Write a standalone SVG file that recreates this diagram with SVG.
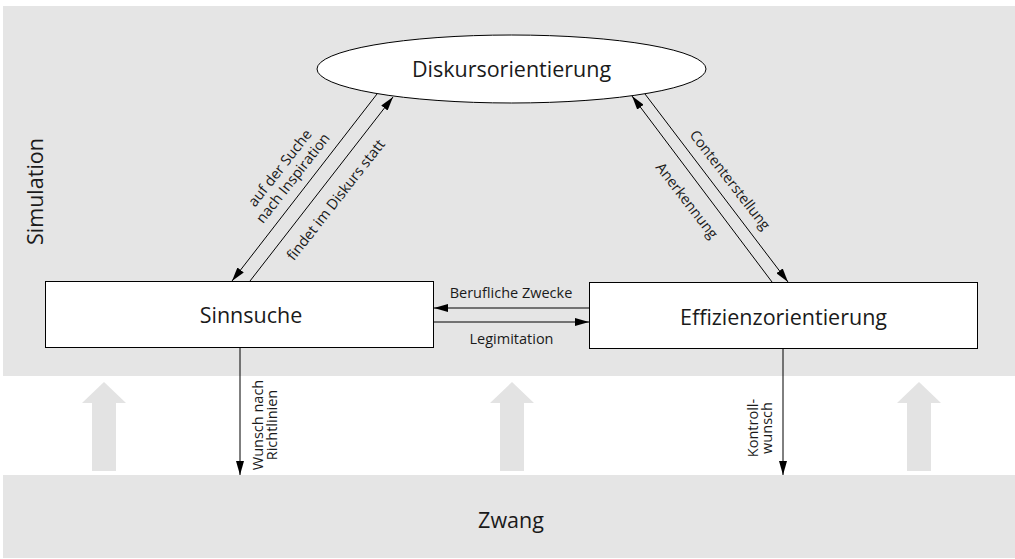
<svg xmlns="http://www.w3.org/2000/svg" width="1015" height="559" viewBox="0 0 1015 559">
<style>
.bg{fill:#e5e5e5}
.big{fill:#e3e3e3}
.node{fill:#fff;stroke:#000;stroke-width:1}
.t{font-family:"Open Sans","Noto Sans",sans-serif;fill:#1a1a1a}
.lg{font-size:21.5px;text-anchor:middle}
.sm{font-size:14.5px;text-anchor:middle}
.c{stroke:#000;stroke-width:1;fill:none;marker-end:url(#ah)}
</style>
<defs>
<marker id="ah" markerWidth="14" markerHeight="8" refX="14" refY="4" orient="auto" markerUnits="userSpaceOnUse"><path d="M0,0 L14,4 L0,8 z" fill="#000"/></marker>
</defs>
<g id="simulation">
<rect class="bg" x="3" y="6" width="1012" height="370"/>
<text class="t lg" transform="translate(43,191.5) rotate(-90)">Simulation</text>
</g>
<g id="zwang">
<rect class="bg" x="3" y="475" width="1012" height="83"/>
<text class="t lg" x="511" y="528">Zwang</text>
</g>
<g id="pressure-arrows">
<polygon class="big" points="104,382 126,403 116,403 116,471 92,471 92,403 82,403"/>
<polygon class="big" points="512,382 534,403 524,403 524,471 500,471 500,403 490,403"/>
<polygon class="big" points="919,382 941,403 931,403 931,471 907,471 907,403 897,403"/>
</g>
<g id="diskursorientierung">
<ellipse class="node" cx="511.5" cy="69" rx="194.5" ry="34"/>
<text class="t lg" x="511.5" y="76.5">Diskursorientierung</text>
</g>
<g id="sinnsuche">
<rect class="node" x="45.5" y="281.5" width="388" height="66"/>
<text class="t lg" x="251" y="323">Sinnsuche</text>
</g>
<g id="effizienzorientierung">
<rect class="node" x="589.5" y="282.5" width="388" height="66"/>
<text class="t lg" x="783.5" y="325">Effizienzorientierung</text>
</g>
<g id="connectors">
<line class="c" x1="377" y1="94" x2="232" y2="281"/>
<line class="c" x1="250" y1="281" x2="393" y2="97"/>
<line class="c" x1="645" y1="94" x2="788" y2="282"/>
<line class="c" x1="772" y1="282" x2="632" y2="96"/>
<line class="c" x1="589" y1="308" x2="434" y2="308"/>
<line class="c" x1="434" y1="322" x2="589" y2="322"/>
<line class="c" x1="240" y1="348" x2="240" y2="475"/>
<line class="c" x1="783" y1="349" x2="783" y2="475"/>
<g transform="translate(305.1,187.7) rotate(-51.9)">
<text class="t sm" x="0" y="-27">auf der Suche</text>
<text class="t sm" x="0" y="-10.5">nach Inspiration</text>
</g>
<text class="t sm" transform="translate(321.6,188.8) rotate(-51.9)" x="0" y="23">findet im Diskurs statt</text>
<text class="t sm" transform="translate(717.9,189.3) rotate(52.3)" x="0" y="-10.3">Contenterstellung</text>
<text class="t sm" transform="translate(702,189) rotate(52.3)" x="0" y="24">Anerkennung</text>
<text class="t sm" x="511" y="298">Berufliche Zwecke</text>
<text class="t sm" x="511.5" y="344">Legimitation</text>
<g transform="translate(240,425) rotate(-90)">
<text class="t sm" x="0" y="23">Wunsch nach</text>
<text class="t sm" x="0" y="37">Richtlinien</text>
</g>
<g transform="translate(783,428) rotate(-90)">
<text class="t sm" x="0" y="-25">Kontroll-</text>
<text class="t sm" x="0" y="-11">wunsch</text>
</g>
</g>
</svg>
